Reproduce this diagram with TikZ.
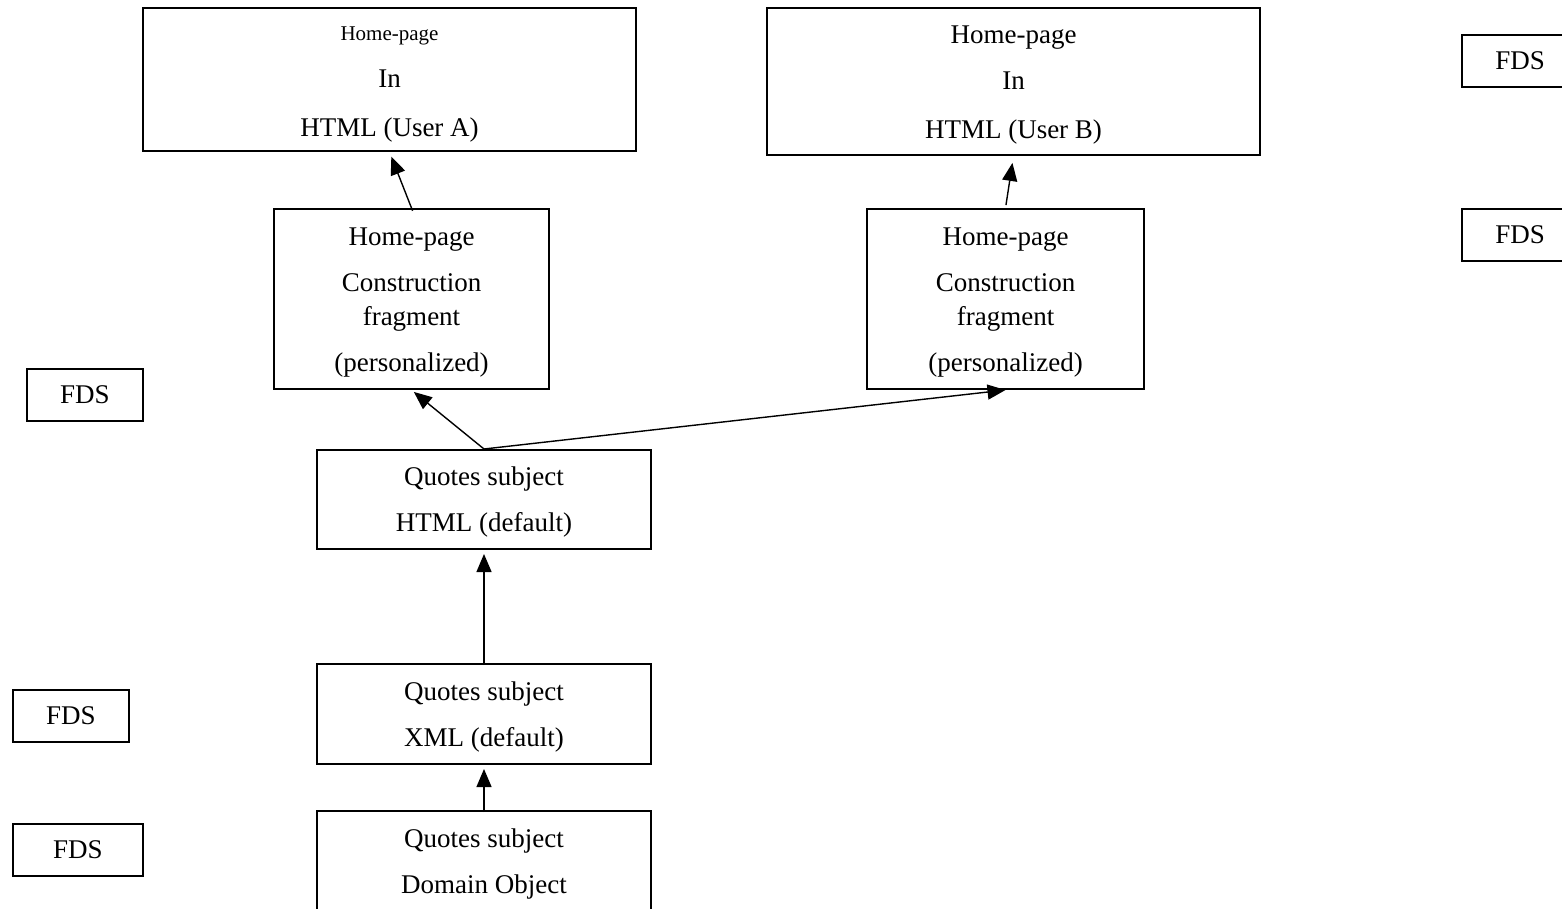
\documentclass[tikz,border=0pt]{standalone}
\usepackage{fontspec}
\setmainfont{Liberation Serif}
\usetikzlibrary{arrows.meta}
% taller first line pushes the text block a little lower in its box
\newcommand\boxlead{\rule{0pt}{24pt}}
\begin{document}
\begin{tikzpicture}[x=1pt,y=-1pt,
  box/.style={draw=black, line width=2pt, inner sep=0pt, align=center,
    font=\fontsize{27}{34}\selectfont},
  fdsbox/.style={box, minimum height=52pt},
  link/.style={line width=1.4pt, -{Triangle[length=18pt,width=15pt]}}]
\clip (0,0) rectangle (1562,908);
\fill[white] (0,0) rectangle (1562,908);

% output pages
\node[box, minimum width=493pt, minimum height=143pt] (homeA) at (389.5,79.5)
  {\boxlead{\fontsize{21}{26}\selectfont Home-page}\\[13pt]In\\[15pt]HTML (User A)};
\node[box, minimum width=493pt, minimum height=147pt] (homeB) at (1013.5,81.5)
  {\boxlead Home-page\\[12pt]In\\[15pt]HTML (User B)};

% personalized fragments
\node[box, minimum width=275pt, minimum height=180pt] (consA) at (411.5,299)
  {\boxlead Home-page\\[12pt]Construction\\fragment\\[12pt](personalized)};
\node[box, minimum width=277pt, minimum height=180pt] (consB) at (1005.5,299)
  {\boxlead Home-page\\[12pt]Construction\\fragment\\[12pt](personalized)};

% quotes subject chain
\node[box, minimum width=334pt, minimum height=99pt] (qhtml) at (484,499.5)
  {\boxlead Quotes subject\\[12pt]HTML (default)};
\node[box, minimum width=334pt, minimum height=100pt] (qxml) at (484,714)
  {\boxlead Quotes subject\\[12pt]XML (default)};
\node[box, minimum width=334pt, minimum height=100pt] (dom) at (484,861)
  {\boxlead Quotes subject\\[12pt]Domain Object};

% FDS markers
\node[fdsbox, minimum width=116pt] (fds1) at (85,395) {FDS};
\node[fdsbox, minimum width=116pt] (fds2) at (71,716) {FDS};
\node[fdsbox, minimum width=130pt] (fds3) at (78,850) {FDS};
\node[fdsbox, minimum width=116pt] (fds4) at (1520,61) {FDS};
\node[fdsbox, minimum width=116pt] (fds5) at (1520,234.5) {FDS};

% connectors
\draw[link, shorten >=5pt, shorten <=-3pt] (consA.north) -- (homeA.south);
\draw[link, shorten >=7pt, shorten <=3pt] (consB.north) -- (homeB.south);
\draw[link, shorten >=3pt] (qhtml.north) -- (consA.south);
\draw[link, shorten >=0pt] (qhtml.north) -- (consB.south);
\draw[link, shorten >=4pt, shorten <=-2pt] (qxml.north) -- (qhtml.south);
\draw[link, shorten >=4pt, shorten <=-2pt] (dom.north) -- (qxml.south);
\end{tikzpicture}
\end{document}
